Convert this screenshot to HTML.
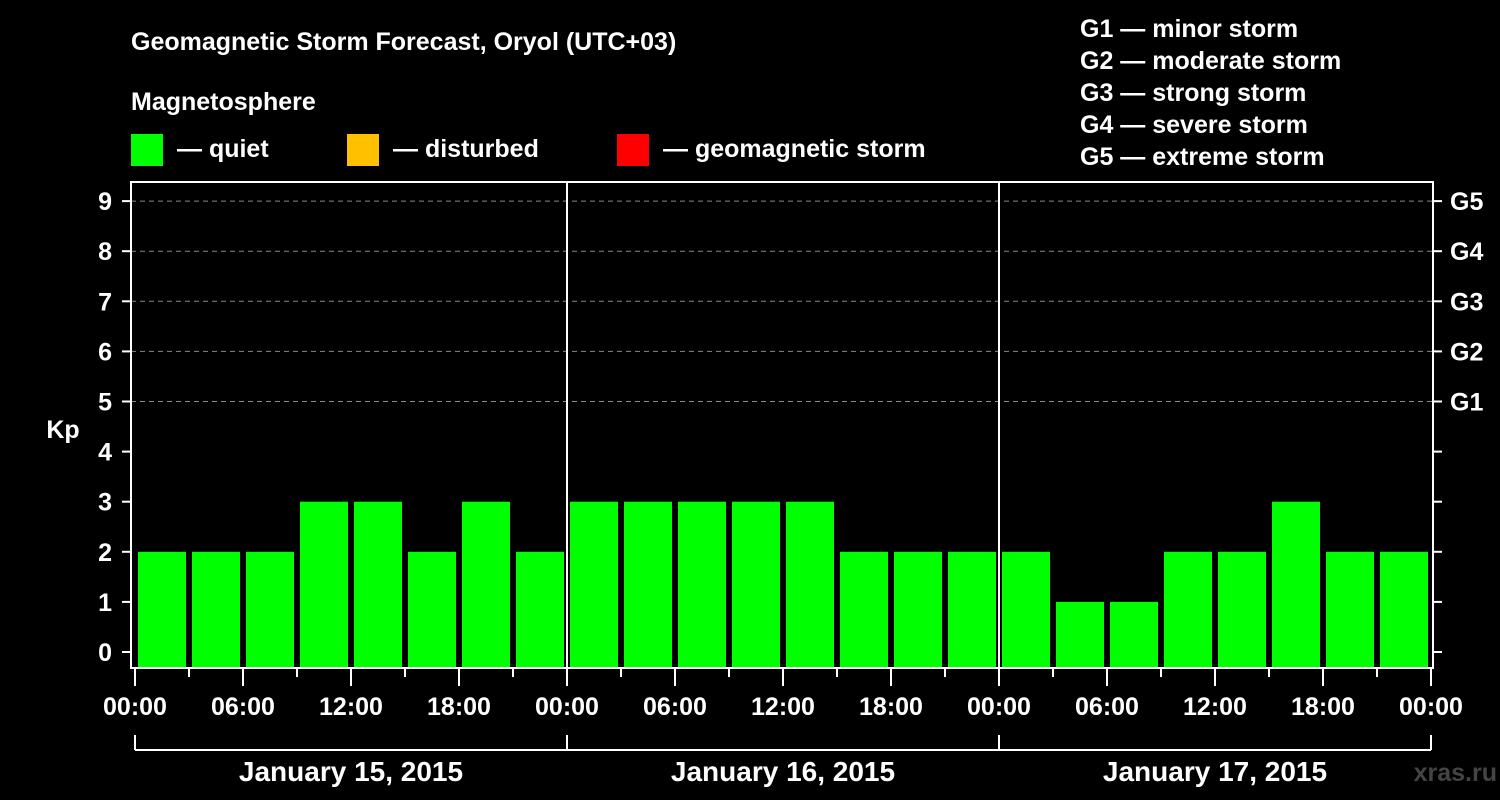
<!DOCTYPE html>
<html><head><meta charset="utf-8"><style>
body{margin:0;background:#000;width:1500px;height:800px;overflow:hidden}
svg{display:block;font-family:"Liberation Sans",Arial,sans-serif;font-weight:bold}
</style></head><body>
<svg id="c" width="1500" height="800">
<text x="131" y="50" fill="#fff" font-size="25">Geomagnetic Storm Forecast, Oryol (UTC+03)</text>
<text x="131" y="110" fill="#fff" font-size="25">Magnetosphere</text>
<rect x="131" y="134" width="32" height="32" fill="#00ff00"/>
<text x="177" y="157" fill="#fff" font-size="25">— quiet</text>
<rect x="347" y="134" width="32" height="32" fill="#ffc000"/>
<text x="393" y="157" fill="#fff" font-size="25">— disturbed</text>
<rect x="617" y="134" width="32" height="32" fill="#ff0000"/>
<text x="663" y="157" fill="#fff" font-size="25">— geomagnetic storm</text>
<g fill="#fff" font-size="25">
<text x="1080" y="37">G1 — minor storm</text>
<text x="1080" y="69">G2 — moderate storm</text>
<text x="1080" y="101">G3 — strong storm</text>
<text x="1080" y="133">G4 — severe storm</text>
<text x="1080" y="165">G5 — extreme storm</text>
</g>
<text x="63" y="438" fill="#fff" font-size="25" text-anchor="middle">Kp</text>
<text x="1497" y="781" fill="#444" font-size="25" text-anchor="end">xras.ru</text>
<g id="grid"></g><g id="bars"></g><g id="axes"></g>
</svg>
<script>
const days=["January 15, 2015","January 16, 2015","January 17, 2015"];
const kp=[2,2,2,3,3,2,3,2, 3,3,3,3,3,2,2,2, 2,1,1,2,2,3,2,2];
const yTicks=[0,1,2,3,4,5,6,7,8,9];
const gLabels=["G1","G2","G3","G4","G5"];
const gLevels=[5,6,7,8,9];
const xLabels=["00:00","06:00","12:00","18:00"];
const NS="http://www.w3.org/2000/svg";
const X0=135,DAYW=432,Y0=652,YU=50.1,TOP=182,BOT=668,L=131,R=1433;
const nDays=days.length, slot=DAYW/8;
const xs=i=>X0+i*slot, ys=v=>Y0-v*YU;
function mk(t,a,p){const e=document.createElementNS(NS,t);for(const k in a)e.setAttribute(k,a[k]);p.appendChild(e);return e;}
const grid=document.getElementById('grid'),bars=document.getElementById('bars'),ax=document.getElementById('axes');
gLevels.forEach((v,i)=>{
const ln=mk('line',{x1:L,x2:R,y1:ys(v),y2:ys(v),stroke:'#888','stroke-dasharray':'5,4','stroke-width':1},grid);


const t=mk('text',{x:1450,y:ys(v)+9,fill:'#fff','font-size':25},ax);t.textContent=gLabels[i];


});
kp.forEach((v,i)=>{
const b=mk('rect',{x:xs(i)+3,y:ys(v),width:slot-6,height:BOT-ys(v),fill:v>=5?'#ff0000':(v>=4?'#ffc000':'#00ff00')},bars);


});
mk('rect',{x:L,y:TOP,width:R-L,height:BOT-TOP,fill:'none',stroke:'#fff','stroke-width':2},ax);
for(let d=1;d<nDays;d++){const l=mk('line',{x1:X0+d*DAYW,x2:X0+d*DAYW,y1:TOP,y2:BOT,stroke:'#fff','stroke-width':2},ax);

}
yTicks.forEach(v=>{
mk('line',{x1:122,x2:L,y1:ys(v),y2:ys(v),stroke:'#fff','stroke-width':2},ax);
mk('line',{x1:R,x2:1442,y1:ys(v),y2:ys(v),stroke:'#fff','stroke-width':2},ax);
const t=mk('text',{x:112,y:ys(v)+9,fill:'#fff','font-size':25,'text-anchor':'end'},ax);t.textContent=v;


});
for(let i=0;i<=nDays*8;i++){
const major=i%2==0;
mk('line',{x1:xs(i),x2:xs(i),y1:BOT,y2:major?686:677,stroke:'#fff','stroke-width':2},ax);
if(major){const t=mk('text',{x:xs(i),y:715,fill:'#fff','font-size':25,'text-anchor':'middle'},ax);
t.textContent=xLabels[(i/2)%4];

}
}
mk('line',{x1:X0,x2:X0+nDays*DAYW,y1:750,y2:750,stroke:'#fff','stroke-width':2},ax);
for(let d=0;d<=nDays;d++)mk('line',{x1:X0+d*DAYW,x2:X0+d*DAYW,y1:735,y2:750,stroke:'#fff','stroke-width':2},ax);
days.forEach((s,d)=>{const t=mk('text',{x:X0+d*DAYW+DAYW/2,y:781,fill:'#fff','font-size':28,'text-anchor':'middle'},ax);t.textContent=s;

});
</script>
</body></html>
